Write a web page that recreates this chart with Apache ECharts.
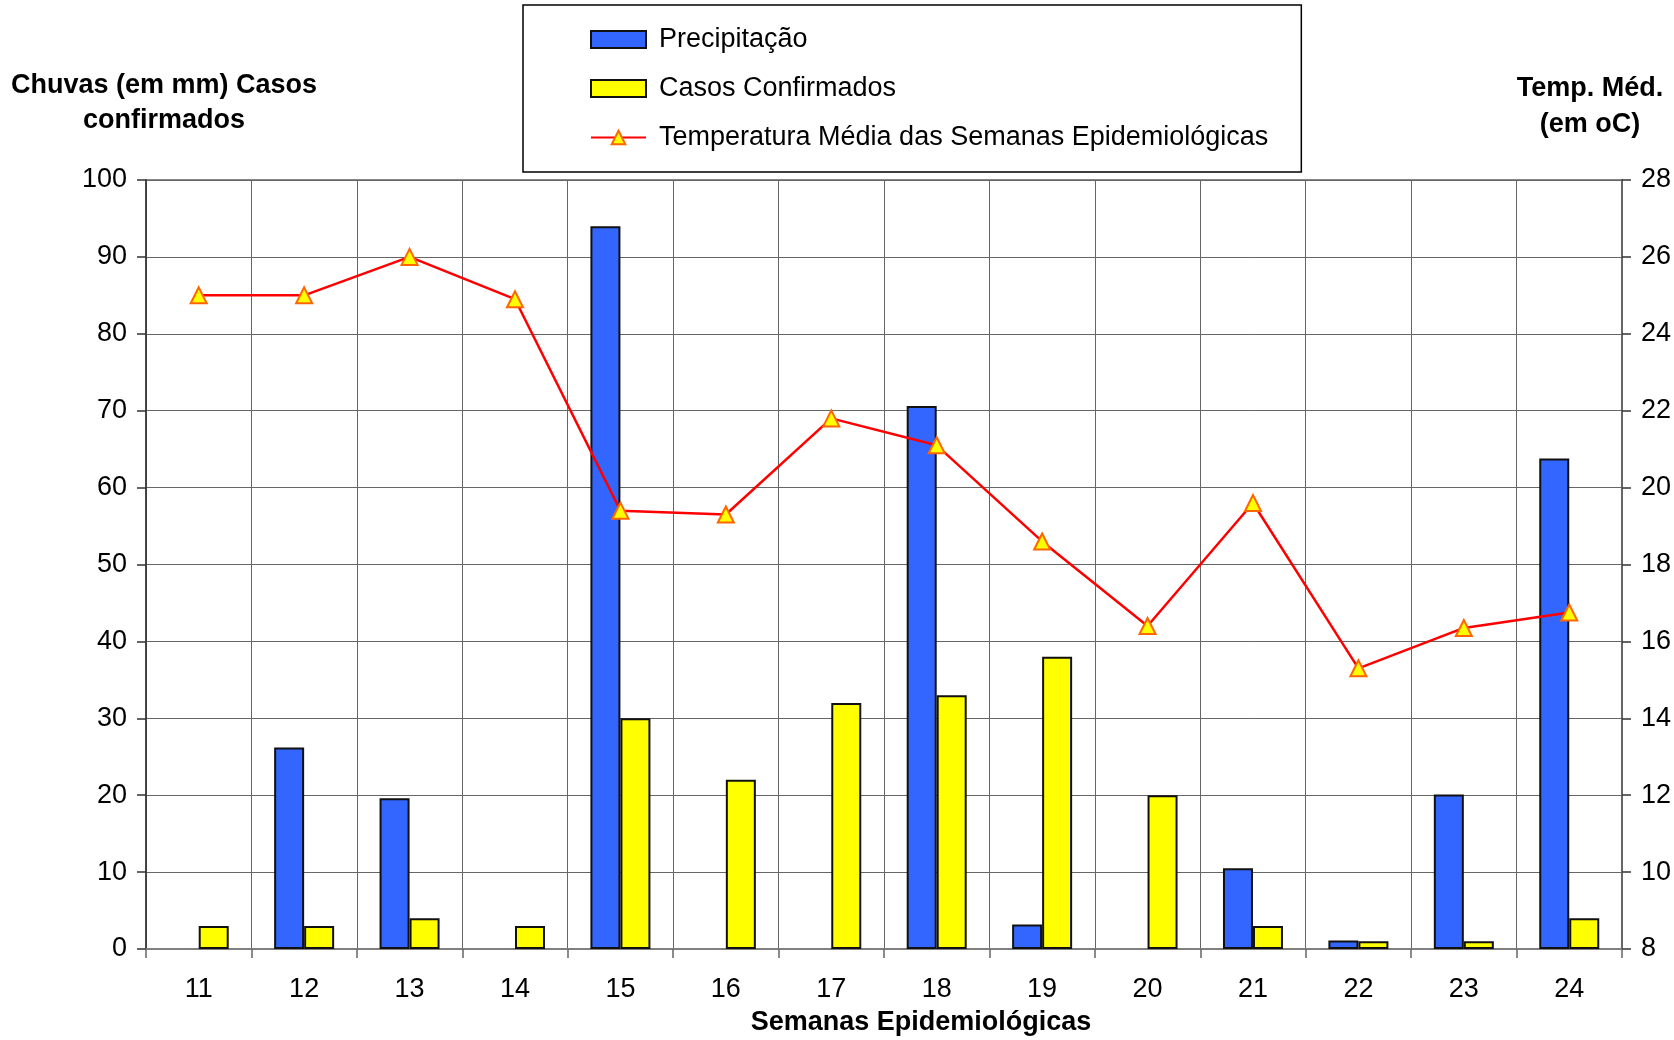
<!DOCTYPE html>
<html><head><meta charset="utf-8">
<script src="https://cdn.jsdelivr.net/npm/echarts@6/dist/echarts.min.js"></script>
<style>html,body{margin:0;padding:0;background:#fff}#c{width:1674px;height:1040px}</style>
</head><body><div id="c"></div>
<script>
const weeks = ['11','12','13','14','15','16','17','18','19','20','21','22','23','24'];
const precipitacao = [0, 26.2, 19.6, 0, 94.0, 0, 0, 70.6, 3.2, 0, 10.5, 1.1, 20.1, 63.8];
const casos = [3, 3, 4, 3, 30, 22, 32, 33, 38, 20, 3, 1, 1, 4];
const temperatura = [25.0, 25.0, 26.0, 24.9, 19.4, 19.3, 21.8, 21.1, 18.6, 16.4, 19.6, 15.3, 16.35, 16.75];
const leftTitle = ['Chuvas (em mm) Casos', 'confirmados'];
const rightTitle = ['Temp. Méd.', '(em oC)'];
const xTitle = 'Semanas Epidemiológicas';

const FONT = '"Liberation Sans", Arial, sans-serif';
const chart = echarts.init(document.getElementById('c'));
function txt(t, x, y, bold) {
  return { type: 'text', x: x, y: y, silent: true,
    style: { text: t, x: 0, y: 0, fill: '#000', font: (bold ? 'bold ' : '') + '27px ' + FONT,
      textAlign: 'center', textVerticalAlign: 'middle', align: 'center', verticalAlign: 'middle' } };
}
// zero values are drawn as no bar (as in the original)
const noZero = arr => arr.map(v => (v === 0 ? null : v));
chart.setOption({
  animation: false,
  backgroundColor: '#fff',
  textStyle: { fontFamily: FONT },
  grid: { left: 146, right: 52, top: 180, bottom: 91, show: true, borderColor: '#888', borderWidth: 2, containLabel: false },
  legend: {
    orient: 'vertical', left: 523, top: 5,
    padding: [21, 33, 21, 67],
    itemGap: 22, itemWidth: 55, itemHeight: 17,
    borderColor: '#000', borderWidth: 1.5, backgroundColor: '#fff',
    textStyle: { fontSize: 27, color: '#000', fontFamily: FONT, padding: [0, 0, 0, 8] },
    data: [
      { name: 'Precipitação', icon: 'rect' },
      { name: 'Casos Confirmados', icon: 'rect' },
      { name: 'Temperatura Média das Semanas Epidemiológicas' }
    ]
  },
  xAxis: {
    type: 'category', data: weeks,
    axisLine: { lineStyle: { color: '#808080', width: 2 } },
    axisTick: { show: true, length: 9, lineStyle: { color: '#666', width: 1.5 } },
    axisLabel: { fontSize: 27, color: '#000', margin: 27, fontFamily: FONT },
    splitLine: { show: true, lineStyle: { color: '#666', width: 1 } }
  },
  yAxis: [
    { type: 'value', min: 0, max: 100, interval: 10,
      axisLine: { show: true, lineStyle: { color: '#333', width: 1.5 } },
      axisTick: { show: true, length: 9, lineStyle: { color: '#333', width: 1.5 } },
      axisLabel: { fontSize: 27, color: '#000', margin: 19, fontFamily: FONT },
      splitLine: { show: true, lineStyle: { color: '#666', width: 1 } } },
    { type: 'value', min: 8, max: 28, interval: 2, position: 'right',
      axisLine: { show: true, lineStyle: { color: '#666', width: 2 } },
      axisTick: { show: true, length: 9, lineStyle: { color: '#333', width: 1.5 } },
      axisLabel: { fontSize: 27, color: '#000', margin: 19, fontFamily: FONT },
      splitLine: { show: false } }
  ],
  series: [
    { name: 'Precipitação', type: 'bar', data: noZero(precipitacao), barWidth: 30, barGap: '0%',
      itemStyle: { color: '#3366FF', borderColor: '#111', borderWidth: 2 } },
    { name: 'Casos Confirmados', type: 'bar', data: noZero(casos), barWidth: 30, barGap: '0%',
      itemStyle: { color: '#FFFF00', borderColor: '#111', borderWidth: 2 } },
    { name: 'Temperatura Média das Semanas Epidemiológicas', type: 'line', yAxisIndex: 1, data: temperatura,
      symbol: 'triangle', symbolSize: 16, z: 5,
      lineStyle: { color: '#FF0000', width: 2.5 },
      itemStyle: { color: '#FFFF00', borderColor: '#FF6600', borderWidth: 2 } }
  ],
  graphic: [
    txt(leftTitle[0], 164, 86, true), txt(leftTitle[1], 164, 121, true),
    txt(rightTitle[0], 1590, 89, true), txt(rightTitle[1], 1590, 125, true),
    txt(xTitle, 921, 1023, true)
  ]
});
</script></body></html>
